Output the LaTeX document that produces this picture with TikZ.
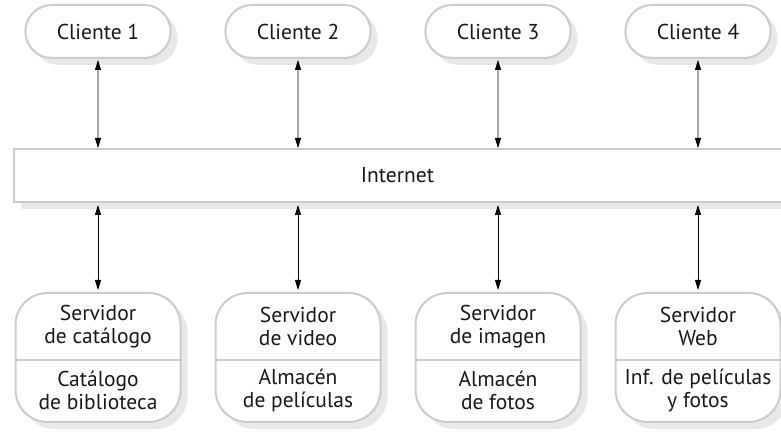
\documentclass[tikz,border=0pt]{standalone}
\usepackage{fontspec}
\setmainfont{PT Sans}
\usetikzlibrary{arrows.meta, positioning, shadows, shapes.misc}

\begin{document}
\begin{tikzpicture}[x=1pt,y=1pt,>={Triangle[length=10pt,width=6pt]},
  every node/.style={font=\fontsize{21.5}{23.5}\selectfont, text=black!90, align=center},
  shade/.style={drop shadow={shadow xshift=7pt,shadow yshift=-7pt,fill=black!9,opacity=1}},
  client/.style={rounded rectangle, draw=black!20, line width=2pt, fill=white, shade,
                 minimum width=152pt, minimum height=53pt},
  netbox/.style={rectangle, draw=black!20, line width=2pt, fill=white, shade,
                 minimum width=787pt, minimum height=53pt},
  server/.style={rectangle, rounded corners=32pt, draw=black!20, line width=2pt, fill=white, shade,
                 minimum width=165pt, minimum height=129pt},
  divider/.style={draw=black!20, line width=2pt},
  link/.style={<->, line width=0.8pt, black}]
  \useasboundingbox (0,0) rectangle (781,436);
  % internet
  \node[netbox] (net) at (407.5,260.5) {};
  \node (nettext) at ([xshift=-10pt]net.center) {Internet};
  % clients
  \foreach \i/\x in {1/98,2/298,3/498,4/698} {
    \node[client] (c\i) at (\x,404.5) {Cliente \i};
    \draw[link, shorten <=1pt] (c\i) -- (c\i |- net.north);
  }
  % servers
  \foreach \i/\x/\top/\bot in {
      1/98/{Servidor\\de catálogo}/{Catálogo\\de biblioteca},
      2/298/{Servidor\\de video}/{Almacén\\de películas},
      3/498/{Servidor\\de imagen}/{Almacén\\de fotos},
      4/698/{Servidor\\Web}/{Inf. de películas\\y fotos}} {
    \node[server] (s\i) at (\x,78.5) {};
    \draw[divider] ([yshift=-2.5pt]s\i.west) -- ([yshift=-2.5pt]s\i.east);
    \node (s\i top) at ([yshift=31pt]s\i.center) {\top};
    \node (s\i bot) at ([yshift=-33pt]s\i.center) {\bot};
    \draw[link, shorten <=2pt, shorten >=2pt] (s\i |- net.south) -- (s\i);
  }
\end{tikzpicture}
\end{document}
